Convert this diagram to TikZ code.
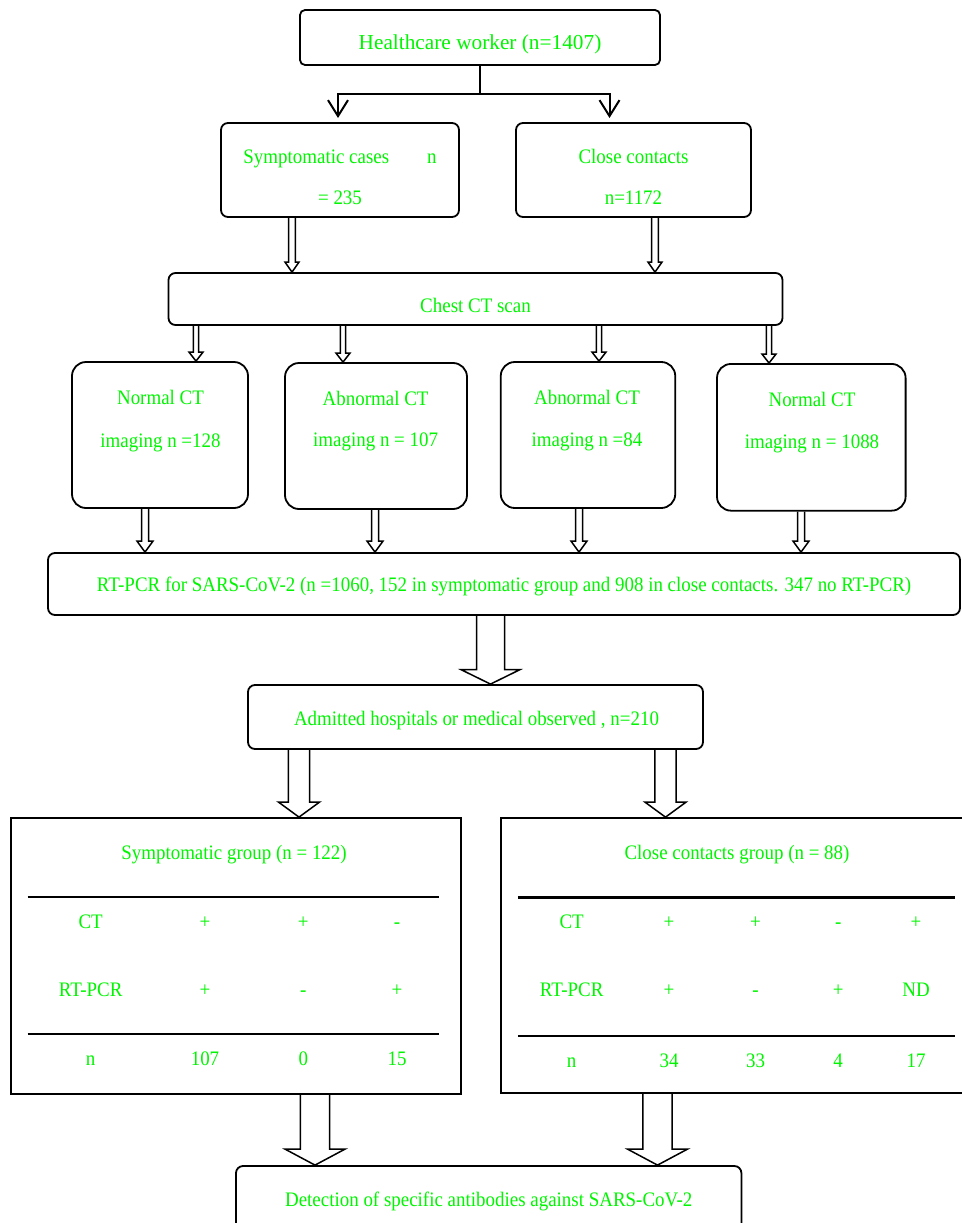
\documentclass[tikz,border=0pt]{standalone}
\usepackage{fontspec}
\setmainfont{Liberation Serif}
\newfontfamily\narrowserif{Liberation Serif}[FakeStretch=0.92]
\usetikzlibrary{calc, arrows.meta}
\definecolor{labelgreen}{RGB}{0,245,0}

% hollow block arrow: top point, tip point, shaft half width, head half width, head length
\newcommand{\fatarrow}[5]{%
  \draw[hollow] let \p1=#1, \p2=#2 in
    (\x1-#3,\y1) -- (\x1-#3,\y2+#5) -- (\x1-#4,\y2+#5) -- (\x1,\y2)
    -- (\x1+#4,\y2+#5) -- (\x1+#3,\y2+#5) -- (\x1+#3,\y1);
}

\begin{document}
\begin{tikzpicture}[x=1pt, y=-1pt,
    box/.style={draw, line width=1.8pt, rounded corners=7pt, inner sep=0pt},
    sqbox/.style={draw, line width=1.8pt, inner sep=0pt},
    lbl/.style={text=labelgreen, font=\narrowserif\fontsize{20.6}{24}\selectfont, inner sep=0pt, text height=13.4pt, text depth=0pt},
    hollow/.style={line width=1.5pt, line join=miter},
    split/.style={line width=2pt, -{Straight Barb[length=16pt, width=20pt]}},
    rule/.style={line width=1.7pt}]

    \useasboundingbox (0,0) rectangle (961,1223);

    \node[box, rounded corners=5pt, minimum width=360pt, minimum height=55pt] (top) at (480,37.5) {};
    \node[lbl, font=\fontsize{21.3}{25}\selectfont, text height=14pt] (toptxt) at (480,43) {Healthcare worker (n=1407)};

    \node[box, minimum width=238pt, minimum height=94pt] (sym) at (340,170) {};
    \node[box, minimum width=235pt, minimum height=94pt] (cc) at (633.5,170) {};
    \node[lbl] (symtxt) at (340,157) {Symptomatic cases\hspace{38pt}n};
    \node[lbl] (symn) at (340,198) {= 235};
    \node[lbl] (cctxt) at (633.5,157) {Close contacts};
    \node[lbl] (ccn) at (633.5,198) {n=1172};

    \coordinate (fork) at (480,94);
    \coordinate (symtip) at (338,118);
    \coordinate (cctip) at (609.5,118);
    \draw[line width=2pt] (top.south) -- (fork);
    \draw[split] (fork) -| (symtip);
    \draw[split] (fork) -| (cctip);

    \node[box, minimum width=614pt, minimum height=52pt] (ct) at (475.5,299) {};
    \node[lbl] (cttxt) at (475.5,306) {Chest CT scan};

    \fatarrow{(292,0 |- sym.south)}{(292,0 |- ct.north)}{3.3}{7}{10}
    \fatarrow{(655,0 |- cc.south)}{(655,0 |- ct.north)}{3.3}{7}{10}

    \node[box, rounded corners=14pt, minimum width=176pt, minimum height=146pt] (n1) at (160,435) {};
    \node[box, rounded corners=14pt, minimum width=182pt, minimum height=146pt] (n2) at (376,436) {};
    \node[box, rounded corners=14pt, minimum width=174.5pt, minimum height=146pt] (n3) at (588,435) {};
    \node[box, rounded corners=14pt, minimum width=188.6pt, minimum height=146.7pt] (n4) at (811.3,437.3) {};

    \node[lbl] (n1a) at (160.5,398) {Normal CT};
    \node[lbl] (n1b) at (160.5,441) {imaging n =128};
    \node[lbl] (n2a) at (375.6,399) {Abnormal CT};
    \node[lbl] (n2b) at (375.6,440) {imaging n = 107};
    \node[lbl] (n3a) at (587,397.7) {Abnormal CT};
    \node[lbl] (n3b) at (587,440) {imaging n =84};
    \node[lbl] (n4a) at (812,400) {Normal CT};
    \node[lbl] (n4b) at (812,442) {imaging n = 1088};

    \fatarrow{(196,0 |- ct.south)}{(196,0 |- n1.north)}{2.7}{7}{9}
    \fatarrow{(343,0 |- ct.south)}{(343,0 |- n2.north)}{2.7}{7}{9}
    \fatarrow{(599,0 |- ct.south)}{(599,0 |- n3.north)}{2.7}{7}{9}
    \fatarrow{(769,0 |- ct.south)}{(769,0 |- n4.north)}{2.7}{7}{9}

    \node[box, minimum width=912pt, minimum height=62pt] (pcr) at (504,584) {};
    \node[lbl] (pcrtxt) at (504,585) {RT-PCR for SARS-CoV-2 (n =1060, 152 in symptomatic group and 908 in close contacts. 347 no RT-PCR)};

    \fatarrow{(145,0 |- n1.south)}{(145,0 |- pcr.north)}{3.5}{8}{11}
    \fatarrow{(375,0 |- n2.south)}{(375,0 |- pcr.north)}{3.5}{8}{11}
    \fatarrow{(579,0 |- n3.south)}{(579,0 |- pcr.north)}{3.5}{8}{11}
    \fatarrow{(801,0 |- n4.south)}{(801,0 |- pcr.north)}{3.5}{8}{11}

    \node[box, minimum width=455pt, minimum height=64pt] (adm) at (475.5,717) {};
    \node[lbl] (admtxt) at (476.5,719) {Admitted hospitals or medical observed , n=210};

    \fatarrow{(490.5,0 |- pcr.south)}{(490.5,0 |- adm.north)}{14}{29.5}{14.5}

    \node[sqbox, minimum width=450pt, minimum height=276pt] (sg) at (236,956) {};
    \node[sqbox, minimum width=474pt, minimum height=274.7pt] (cg) at (738,955.4) {};

    \fatarrow{(299,0 |- adm.south)}{(299,0 |- sg.north)}{10.7}{20.5}{15}
    \fatarrow{(665.5,0 |- adm.south)}{(665.5,0 |- cg.north)}{10.7}{20.5}{15}

    % symptomatic group table
    \node[lbl] (sgtitle) at (234,853) {Symptomatic group (n = 122)};
    \draw[rule] (27.6,896.7) -- (439,896.7);
    \draw[rule] (27.6,1034.3) -- (439,1034.3);
    \node[lbl] (sg11) at (90.7,921.7) {CT};
    \node[lbl] (sg12) at (205,921.7) {+};
    \node[lbl] (sg13) at (303.3,921.7) {+};
    \node[lbl] (sg14) at (397,921.7) {-};
    \node[lbl] (sg21) at (90.7,989.3) {RT-PCR};
    \node[lbl] (sg22) at (205,989.3) {+};
    \node[lbl] (sg23) at (303.3,989.3) {-};
    \node[lbl] (sg24) at (397,989.3) {+};
    \node[lbl] (sg31) at (90.7,1059) {n};
    \node[lbl] (sg32) at (205,1059) {107};
    \node[lbl] (sg33) at (303.3,1059) {0};
    \node[lbl] (sg34) at (397,1059) {15};

    % close contacts group table
    \node[lbl] (cgtitle) at (737,853) {Close contacts group (n = 88)};
    \draw[rule, line width=2.6pt] (517.8,897.3) -- (955,897.3);
    \draw[rule, line width=2.6pt] (517.8,1036) -- (955,1036);
    \node[lbl] (cg11) at (571.7,921.7) {CT};
    \node[lbl] (cg12) at (669,921.7) {+};
    \node[lbl] (cg13) at (755.5,921.7) {+};
    \node[lbl] (cg14) at (838.2,921.7) {-};
    \node[lbl] (cg15) at (916,921.7) {+};
    \node[lbl] (cg21) at (571.7,990) {RT-PCR};
    \node[lbl] (cg22) at (669,990) {+};
    \node[lbl] (cg23) at (755.5,990) {-};
    \node[lbl] (cg24) at (838.2,990) {+};
    \node[lbl] (cg25) at (916,990) {ND};
    \node[lbl] (cg31) at (571.7,1060.7) {n};
    \node[lbl] (cg32) at (669,1060.7) {34};
    \node[lbl] (cg33) at (755.5,1060.7) {33};
    \node[lbl] (cg34) at (838.2,1060.7) {4};
    \node[lbl] (cg35) at (916,1060.7) {17};

    \node[box, minimum width=505.4pt, minimum height=84pt] (det) at (488.7,1208) {};
    \node[lbl] (dettxt) at (488.7,1200) {Detection of specific antibodies against SARS-CoV-2};

    \fatarrow{(315,0 |- sg.south)}{(315,0 |- det.north)}{14.7}{30}{16}
    \fatarrow{(657.5,0 |- cg.south)}{(657.5,0 |- det.north)}{14.7}{30}{16}

\end{tikzpicture}
\end{document}
